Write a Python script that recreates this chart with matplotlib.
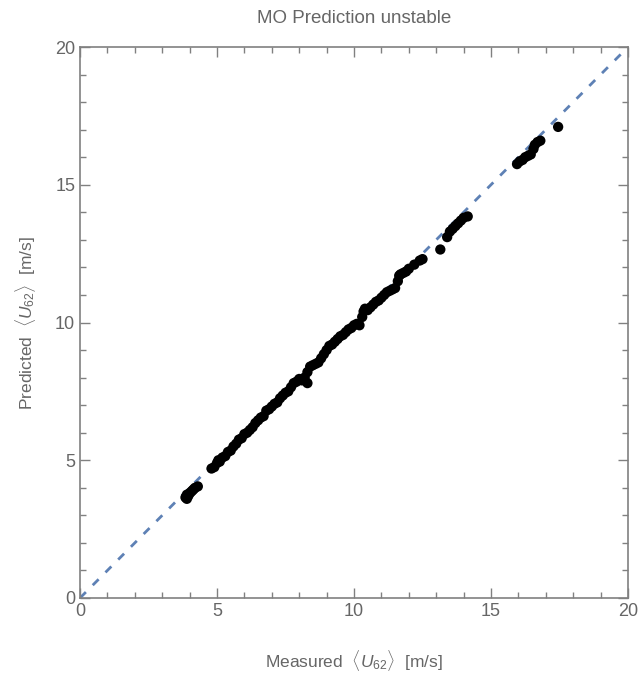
import numpy as np
import matplotlib.pyplot as plt
from matplotlib.ticker import MultipleLocator

# measured vs predicted <U62> [m/s]
measured = [3.85, 3.9, 3.9, 3.95, 4.0, 4.05, 4.1, 4.15, 4.2, 4.3,
            4.8, 4.9, 5.0, 5.05, 5.1, 5.2, 5.3, 5.4, 5.5, 5.6,
            5.7, 5.8, 5.9, 6.0, 6.1, 6.2, 6.3, 6.4, 6.5, 6.6,
            6.7, 6.8, 6.9, 7.0, 7.1, 7.2, 7.3, 7.4, 7.5, 7.6,
            7.7, 7.8, 7.9, 8.0, 8.1, 8.2, 8.3, 8.3, 8.4, 8.5,
            8.6, 8.7, 8.8, 8.9, 9.0, 9.1, 9.2, 9.3, 9.4, 9.5,
            9.6, 9.7, 9.8, 9.9, 10.0, 10.1, 10.2, 10.3, 10.35, 10.4,
            10.5, 10.6, 10.7, 10.8, 10.9, 11.0, 11.1, 11.2, 11.3, 11.4,
            11.5, 11.6, 11.65, 11.7, 11.8, 11.9, 12.0, 12.2, 12.4, 12.5,
            13.15, 13.4, 13.5, 13.6, 13.7, 13.8, 13.9, 14.0, 14.15,
            15.95, 16.05, 16.15, 16.25, 16.35, 16.45, 16.55, 16.6, 16.7, 16.8,
            17.45]
predicted = [3.65, 3.75, 3.6, 3.7, 3.8, 3.85, 3.9, 3.95, 4.0, 4.05,
             4.7, 4.75, 4.9, 5.0, 4.95, 5.1, 5.15, 5.3, 5.35, 5.5,
             5.6, 5.75, 5.8, 5.95, 6.0, 6.1, 6.2, 6.35, 6.45, 6.55,
             6.6, 6.8, 6.85, 6.95, 7.05, 7.1, 7.25, 7.35, 7.45, 7.5,
             7.65, 7.8, 7.85, 7.95, 7.9, 8.0, 7.8, 8.2, 8.4, 8.45,
             8.5, 8.55, 8.7, 8.85, 9.0, 9.15, 9.2, 9.3, 9.4, 9.5,
             9.55, 9.65, 9.75, 9.8, 9.9, 9.95, 9.9, 10.2, 10.4, 10.5,
             10.45, 10.55, 10.65, 10.75, 10.8, 10.9, 11.0, 11.1, 11.15, 11.2,
             11.25, 11.5, 11.7, 11.75, 11.8, 11.85, 11.95, 12.1, 12.25, 12.3,
             12.65, 13.1, 13.3, 13.4, 13.5, 13.6, 13.7, 13.8, 13.85,
             15.75, 15.85, 15.9, 16.0, 16.05, 16.1, 16.3, 16.45, 16.55, 16.6,
             17.1]

grey = '#808080'
txt = '#666666'
plt.rcParams['font.family'] = ['Liberation Sans', 'DejaVu Sans']
plt.rcParams['mathtext.fontset'] = 'custom'
plt.rcParams['mathtext.rm'] = 'Liberation Sans'
plt.rcParams['mathtext.it'] = 'Liberation Sans:italic'

fig = plt.figure(figsize=(6.42, 6.75), dpi=100)
ax = fig.add_axes([80/642, 77/675, 548/642, 551/675])

# 1:1 reference line
ax.plot([0, 20], [0, 20], color='#5E81B5', lw=2, ls=(0, (3, 3.5)), zorder=1)
ax.scatter(measured, predicted, s=55, color='black', edgecolors='none', zorder=2)

ax.set_xlim(0, 20)
ax.set_ylim(0, 20)
ax.xaxis.set_major_locator(MultipleLocator(5))
ax.yaxis.set_major_locator(MultipleLocator(5))
ax.xaxis.set_minor_locator(MultipleLocator(1))
ax.yaxis.set_minor_locator(MultipleLocator(1))
ax.tick_params(which='both', direction='in', top=True, right=True, color=grey,
               labelcolor=txt, labelsize=13)
ax.tick_params(which='major', length=7, width=1)
ax.tick_params(which='minor', length=4, width=1)
for s in ax.spines.values():
    s.set_color(grey)
    s.set_linewidth(1.2)

ax.set_title('MO Prediction unstable', color=txt, fontsize=13.5, pad=17)
ax.set_xlabel(r'Measured  $\langle U_{62}\rangle$  [m/s]', color=txt, fontsize=12.5, labelpad=20)
ax.set_ylabel(r'Predicted  $\langle U_{62}\rangle$  [m/s]', color=txt, fontsize=12.5, labelpad=12)

fig.savefig('out.png', dpi=100)
